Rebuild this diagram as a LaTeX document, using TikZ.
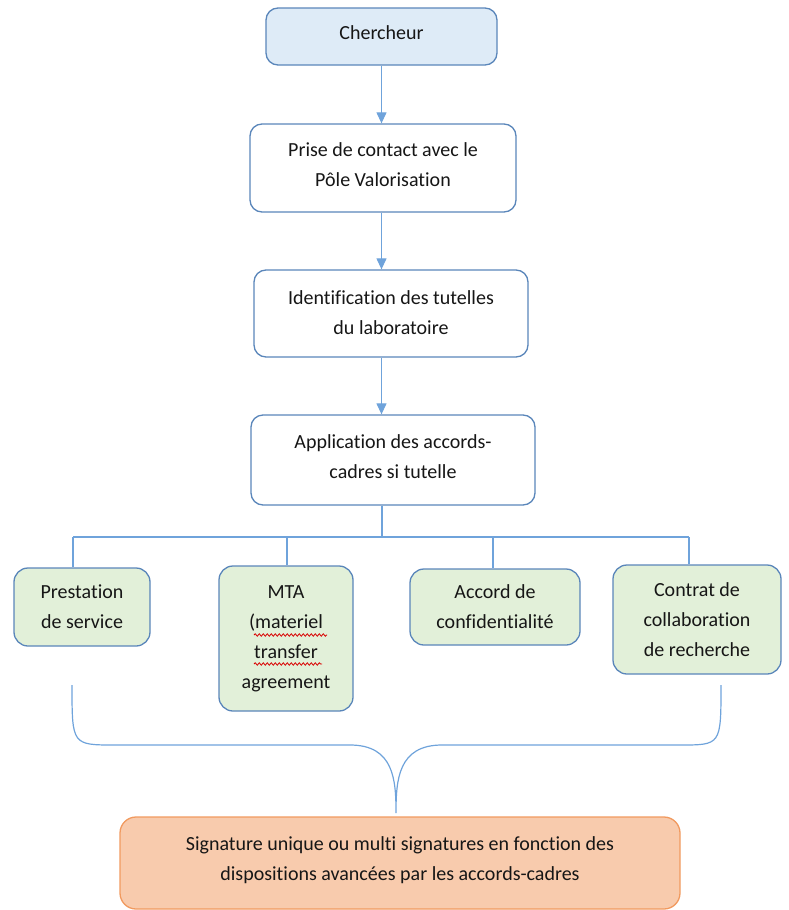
\documentclass[tikz,border=0pt]{standalone}
\usepackage{fontspec}
\setmainfont{Carlito}[Ligatures=NoCommon]
\usetikzlibrary{arrows.meta,decorations.pathmorphing}
\definecolor{boxline}{HTML}{5A86BA}
\definecolor{wire}{HTML}{6FA3DB}
\definecolor{bluefill}{HTML}{DEEBF7}
\definecolor{greenfill}{HTML}{E2F0D9}
\definecolor{orangefill}{HTML}{F8CBAD}
\definecolor{orangeline}{HTML}{F19A5F}
\definecolor{ink}{HTML}{161616}
\tikzset{
  boxtext/.style={align=center, text=ink, inner sep=0pt,
    font=\fontsize{20}{30}\selectfont},
  stepbox/.style={draw=boxline, line width=1.3pt, rounded corners=12pt, fill=white,
    inner sep=0pt, boxtext},
  startbox/.style={stepbox, fill=bluefill},
  kindbox/.style={stepbox, fill=greenfill, rounded corners=14pt},
  endbox/.style={stepbox, draw=orangeline, fill=orangefill, rounded corners=16pt},
  wire/.style={draw=wire, line width=1.2pt},
  flow/.style={wire, -{Triangle[width=10pt,length=11pt]}},
  squiggle/.style={draw=red!85!black, line width=0.8pt,
    decorate, decoration={snake, amplitude=1.2pt, segment length=4pt}}
}
\begin{document}
\begin{tikzpicture}[x=1pt,y=-1pt]
\useasboundingbox (0,0) rectangle (789,910);

% main chain (text sits slightly above the box centre)
\node[startbox, minimum width=231pt, minimum height=57pt,
  label={[boxtext, yshift=4pt]center:Chercheur}] (chercheur) at (381.5,36.5) {};
\node[stepbox, minimum width=266pt, minimum height=88pt,
  label={[boxtext, yshift=3pt]center:{Prise de contact avec le\\Pôle Valorisation}}] (prise) at (383,168) {};
\node[stepbox, minimum width=274pt, minimum height=87pt,
  label={[boxtext, yshift=1pt]center:{Identification des tutelles\\du laboratoire}}] (ident) at (391,313.5) {};
\node[stepbox, minimum width=284pt, minimum height=90pt,
  label={[boxtext, yshift=3pt]center:{Application des accords-\\cadres si tutelle}}] (appl) at (393,460) {};

% kinds of agreement
\node[kindbox, minimum width=136pt, minimum height=78pt] (prest) at (82,607)
  {Prestation\\de service};
\node[kindbox, minimum width=134pt, minimum height=145pt] (mta) at (286,638.5)
  {MTA\\(materiel\\transfer\\agreement};
\node[kindbox, minimum width=170pt, minimum height=76pt] (accord) at (495,607)
  {Accord de\\confidentialité};
\node[kindbox, minimum width=168pt, minimum height=109pt] (contrat) at (697,619.5)
  {Contrat de\\collaboration\\de recherche};

% outcome
\node[endbox, minimum width=560pt, minimum height=92pt,
  label={[boxtext, yshift=3pt]center:{Signature unique ou multi signatures en fonction des\\dispositions avancées par les accords-cadres}}] (sig) at (400,863) {};

% arrows down the chain
\draw[flow] (chercheur.south) -- (prise.north -| chercheur.south);
\draw[flow] (prise.south -| chercheur.south) -- (ident.north -| chercheur.south);
\draw[flow] (ident.south -| chercheur.south) -- (appl.north -| chercheur.south);

% branching bus
\coordinate (bus) at (382,537);
\coordinate (bA) at (73,537);
\coordinate (bB) at (287,537);
\coordinate (bC) at (493,537);
\coordinate (bD) at (689,537);
\draw[wire] (appl.south -| bus) -- (bus);
\draw[wire] (bA) -- (bD);
\draw[wire] (bA) -- (prest.north -| bA);
\draw[wire] (bB) -- (mta.north -| bB);
\draw[wire] (bC) -- (accord.north -| bC);
\draw[wire] (bD) -- (contrat.north -| bD);

% brace gathering the four kinds
\coordinate (tip) at (396,813);
\draw[wire] (72,685) .. controls (72,745) .. (115,745) -- (350,745)
  .. controls (394,745) and (396,780) .. (tip)
  .. controls (396,780) and (398,745) .. (442,745) -- (680,745)
  .. controls (721,745) .. (721,685);

% spell-check marks
\draw[squiggle] (254,635) -- (327,635);
\draw[squiggle] (254,664) -- (322,664);
\end{tikzpicture}
\end{document}
